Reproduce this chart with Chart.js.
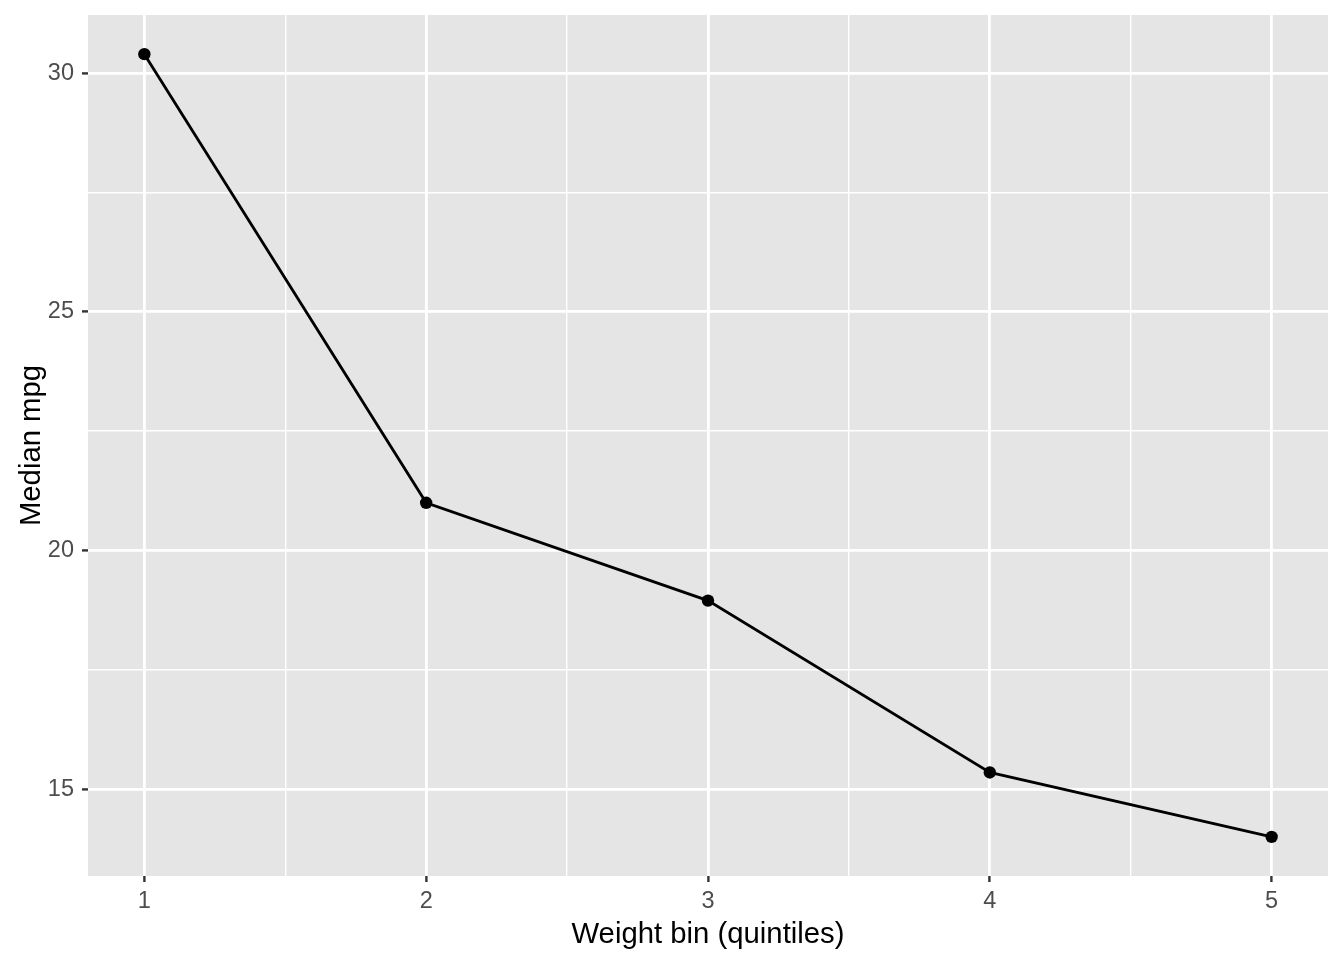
<!DOCTYPE html>
<html>
<head>
<meta charset="utf-8">
<script src="https://cdn.jsdelivr.net/npm/chart.js@4"></script>
<style>
  body { margin: 0; background: #ffffff; }
  canvas { display: block; }
</style>
</head>
<body>
<canvas id="mpgChart" width="1344" height="960"></canvas>
<script>
// weight bins and median mpg
const weightBins = [1, 2, 3, 4, 5];
const medianMpg = [30.4, 21.0, 18.95, 15.35, 14.0];

// axis ticks (major get labels, minor only grid lines)
const xMajor = [1, 2, 3, 4, 5];
const xGrid = [1, 1.5, 2, 2.5, 3, 3.5, 4, 4.5, 5];
const yMajor = [15, 20, 25, 30];
const yGrid = [15, 17.5, 20, 22.5, 25, 27.5, 30];

const FONT = "'Liberation Sans', Arial, Helvetica, sans-serif";

const panelBg = {
    id: "panelBg",
    beforeDraw(chart) {
        const a = chart.chartArea;
        const c = chart.ctx;
        c.save();
        c.fillStyle = "#E5E5E5";
        c.fillRect(a.left, a.top, a.right - a.left, a.bottom - a.top);
        c.restore();
    }
};

function gridOpts(majors)
{
    return {
        color: "#ffffff",
        lineWidth: ctx => majors.includes(ctx.tick.value) ? 2.8 : 1.4,
        drawTicks: true,
        tickLength: 6,
        tickWidth: 2.4,
        tickColor: ctx => majors.includes(ctx.tick.value) ? "#333333" : "rgba(0,0,0,0)"
    };
}

new Chart(document.getElementById("mpgChart"), {
    type: "line",
    data: {
        datasets: [{
            data: weightBins.map((b, i) => ({ x: b, y: medianMpg[i] })),
            borderColor: "#000000",
            borderWidth: 2.8,
            tension: 0,
            pointRadius: 6.2,
            pointBorderWidth: 0,
            pointBackgroundColor: "#000000"
        }]
    },
    plugins: [panelBg],
    options: {
        responsive: false,
        devicePixelRatio: 1,
        animation: false,
        layout: { padding: { top: 15, right: 16, left: 0, bottom: 0 } },
        plugins: {
            legend: { display: false },
            tooltip: { enabled: false }
        },
        scales: {
            x: {
                type: "linear",
                min: 0.8,
                max: 5.2,
                afterBuildTicks: s => { s.ticks = xGrid.map(v => ({ value: v })); },
                afterFit: s => {
                    s.height = 84;
                    s.paddingLeft = 0;
                    s.paddingRight = 0;
                },
                grid: gridOpts(xMajor),
                border: { display: false },
                ticks: {
                    autoSkip: false,
                    maxRotation: 0,
                    padding: 5,
                    color: "#4D4D4D",
                    font: { family: FONT, size: 23.5 },
                    callback: v => xMajor.includes(v) ? String(v) : ""
                },
                title: {
                    display: true,
                    text: "Weight bin (quintiles)",
                    color: "#000000",
                    font: { family: FONT, size: 29.3, lineHeight: 1 },
                    padding: { top: 0, bottom: 10 }
                }
            },
            y: {
                min: 13.18,
                max: 31.22,
                afterBuildTicks: s => { s.ticks = yGrid.map(v => ({ value: v })); },
                afterFit: s => {
                    s.width = 88;
                    s.paddingTop = 0;
                    s.paddingBottom = 0;
                },
                grid: gridOpts(yMajor),
                border: { display: false },
                ticks: {
                    autoSkip: false,
                    padding: 8,
                    color: "#4D4D4D",
                    font: { family: FONT, size: 23.5 },
                    callback: v => yMajor.includes(v) ? String(v) : ""
                },
                title: {
                    display: true,
                    text: "Median mpg",
                    color: "#000000",
                    font: { family: FONT, size: 29.3, lineHeight: 1 },
                    padding: { top: 17, bottom: 0 }
                }
            }
        }
    }
});
</script>
</body>
</html>
